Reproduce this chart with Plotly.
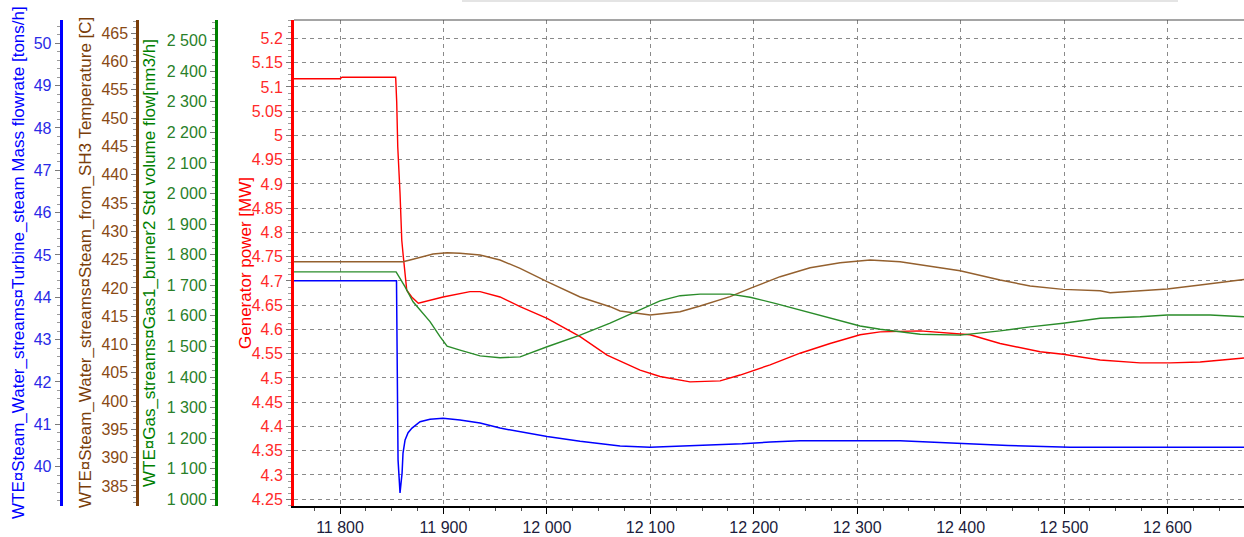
import plotly.graph_objects as go

# ---------------- data ----------------
power_x = [11755.5, 11800, 11802, 11853.8, 11854.8, 11855.8, 11858.0, 11859.7, 11861.2,
           11862.9, 11864.5, 11869.3, 11875.7, 11899.6, 11925.7, 11935.4, 11954.7, 11974.1,
           12000.2, 12032.1, 12058.2, 12090.1, 12109.4, 12138.4, 12167.5, 12186.8, 12215.8,
           12244.8, 12273.8, 12302.8, 12322.2, 12360.9, 12389.9, 12409.2, 12438.2, 12476.9,
           12499.1, 12534.9, 12573.6, 12602.6, 12631.6, 12674.0]
power_mw = [5.117, 5.117, 5.120, 5.120, 5.069, 4.977, 4.881, 4.784, 4.750,
            4.709, 4.681, 4.667, 4.654, 4.667, 4.678, 4.678, 4.667, 4.647,
            4.623, 4.585, 4.547, 4.516, 4.503, 4.492, 4.494, 4.506, 4.527,
            4.551, 4.571, 4.589, 4.595, 4.597, 4.592, 4.589, 4.571, 4.554,
            4.549, 4.537, 4.531, 4.531, 4.533, 4.541]

steam_x = [11755.5, 11854.6, 11856.1, 11858.0, 11860.0, 11860.9, 11862.9, 11865.8, 11869.6,
           11877.4, 11887.0, 11899.6, 11916.0, 11935.4, 11954.7, 11983.7, 12000.2, 12032.1,
           12070.8, 12099.8, 12153.0, 12188.7, 12215.8, 12244.8, 12341.5, 12370.5, 12404.4,
           12445.9, 12505.9, 12674.0]
steam_flow = [44.39, 44.39, 40.16, 39.38, 39.85, 40.32, 40.63, 40.80, 40.91,
              41.06, 41.12, 41.14, 41.10, 41.03, 40.91, 40.79, 40.71, 40.60,
              40.49, 40.46, 40.50, 40.54, 40.58, 40.61, 40.61, 40.58, 40.54,
              40.50, 40.46, 40.46]

temp_x = [11755.5, 11860.9, 11867.7, 11877.4, 11889.9, 11903.5, 11916.0, 11935.4, 11954.7,
          11974.1, 12000.2, 12032.1, 12061.1, 12070.8, 12099.8, 12128.8, 12148.1, 12177.1,
          12196.5, 12225.5, 12254.5, 12283.5, 12312.5, 12341.5, 12370.5, 12399.5, 12438.2,
          12467.2, 12499.1, 12534.9, 12544.6, 12573.6, 12599.7, 12631.6, 12674.0]
temp_c = [424.63, 424.63, 424.93, 425.41, 426.00, 426.22, 426.12, 425.82, 424.93,
          423.47, 421.10, 418.40, 416.68, 415.92, 415.21, 415.80, 416.80, 418.45,
          419.93, 421.98, 423.57, 424.46, 424.93, 424.63, 423.87, 423.04, 421.40,
          420.34, 419.75, 419.51, 419.15, 419.51, 419.81, 420.51, 421.50]

gas_x = [11755.5, 11854.2, 11858.0, 11862.9, 11870.6, 11877.4, 11887.0, 11896.7, 11903.5,
         11916.0, 11935.4, 11954.7, 11974.1, 12000.2, 12032.1, 12061.1, 12090.1, 12109.4,
         12128.8, 12148.1, 12177.1, 12196.5, 12220.6, 12244.8, 12273.8, 12302.8, 12322.2,
         12360.9, 12399.5, 12438.2, 12467.2, 12499.1, 12534.9, 12573.6, 12599.7, 12641.3,
         12674.0]
gas_flow = [1744, 1744, 1723, 1695, 1646, 1619, 1581, 1532, 1501,
            1488, 1469, 1463, 1466, 1499, 1537, 1576, 1619, 1649,
            1666, 1671, 1671, 1661, 1641, 1619, 1592, 1567, 1556,
            1540, 1537, 1551, 1564, 1576, 1592, 1597, 1603, 1603,
            1597]

x_range = [11755.5, 12674]
power_range = [4.236, 5.238]
steam_range = [39.07, 50.55]
temp_range = [381.46, 467.35]
gas_range = [978.1, 2567.7]

power_title = "Generator power [MW]"
steam_title = "WTE¤Steam_Water_streams¤Turbine_steam Mass flowrate [tons/h]"
temp_title = "WTE¤Steam_Water_streams¤Steam_from_SH3 Temperature [C]"
gas_title = "WTE¤Gas_streams¤Gas1_burner2 Std volume flow[nm3/h]"

# ---------------- styling ----------------
W, H = 1244, 537
FONT = "Liberation Sans, Arial, sans-serif"
RED, BLUE, BROWN, GREEN = "#ff0000", "#0000ff", "#7a3e0a", "#008000"
GRID = "#8a8a8a"
DASH = "4px,4px"

fig = go.Figure()
fig.add_trace(go.Scatter(x=gas_x, y=gas_flow, yaxis="y4", mode="lines",
                         line=dict(color="#2a8c2a", width=1.4), name=gas_title))
fig.add_trace(go.Scatter(x=temp_x, y=temp_c, yaxis="y3", mode="lines",
                         line=dict(color="#94602e", width=1.4), name=temp_title))
fig.add_trace(go.Scatter(x=steam_x, y=steam_flow, yaxis="y2", mode="lines",
                         line=dict(color=BLUE, width=1.5), name=steam_title))
fig.add_trace(go.Scatter(x=power_x, y=power_mw, yaxis="y", mode="lines",
                         line=dict(color=RED, width=1.4), name=power_title))

x0 = 294 / W


def yax(color, tickcolor, rng, dtick, minor_dt, **kw):
    d = dict(range=rng, dtick=dtick, showline=True, linecolor=color, linewidth=3,
             ticks="outside", ticklen=5, tickwidth=1, tickcolor="#7a7a7a",
             tickfont=dict(family=FONT, size=16, color=tickcolor),
             zeroline=False, showgrid=False, fixedrange=True, automargin=False,
             minor=dict(ticks="outside", ticklen=3, tickcolor="#9a9a9a", dtick=minor_dt,
                        showgrid=False))
    d.update(kw)
    return d


fig.update_layout(
    width=W, height=H,
    margin=dict(l=0, r=0, t=20, b=31, autoexpand=False),
    plot_bgcolor="white", paper_bgcolor="white",
    separators=". ",
    showlegend=False,
    font=dict(family=FONT, size=16),
    xaxis=dict(domain=[x0, 1], range=x_range, dtick=100, tick0=0, tickformat=",.0f",
               showgrid=True, gridcolor=GRID, gridwidth=1, griddash=DASH,
               showline=True, linecolor="black", linewidth=2,
               ticks="outside", ticklen=6, tickcolor="black",
               separatethousands=True, zeroline=False, automargin=False, fixedrange=True,
               tickfont=dict(family=FONT, size=16, color="#1c1c3c"),
               minor=dict(ticks="outside", ticklen=3, tickcolor="#505050", dtick=25,
                          showgrid=False)),
    yaxis=yax(RED, "#ff2a2a", power_range, 0.05, 0.0125, tick0=4.25, anchor="x",
              showgrid=True, gridcolor=GRID, gridwidth=1, griddash=DASH),
    yaxis2=yax(BLUE, "#2a2ae6", steam_range, 1, 0.2, overlaying="y", anchor="free",
               position=60.7 / W, side="left"),
    yaxis3=yax(BROWN, "#8a4a14", temp_range, 5, 1, overlaying="y", anchor="free",
               position=137.3 / W, side="left"),
    yaxis4=yax(GREEN, "#2a7f2a", gas_range, 100, 20, overlaying="y", anchor="free",
               position=216 / W, side="left", separatethousands=True, tickformat=",.0f"),
)

# axis titles (rotated, placed beside each axis)
for txt, px, col in [(steam_title, 18, BLUE), (temp_title, 85, BROWN),
                     (gas_title, 149, GREEN), (power_title, 245, RED)]:
    fig.add_annotation(text=txt, xref="paper", yref="paper", x=px / W, y=0.5,
                       xanchor="center", yanchor="middle", textangle=-90,
                       showarrow=False, font=dict(family=FONT, size=17, color=col))

# top frame line and faint strip at the very top of the window
fig.add_shape(type="line", xref="paper", yref="paper", x0=x0, x1=1, y0=1, y1=1,
              line=dict(color="#4a4a4a", width=1))
fig.add_shape(type="line", xref="paper", yref="paper", x0=462 / W, x1=1178 / W,
              y0=(506 - 1) / 486, y1=(506 - 1) / 486, line=dict(color="#e4e4e4", width=2))

fig.write_html("out.html", config={"displayModeBar": False},
               post_script="document.body.style.margin='0';document.body.style.overflow='hidden';")
